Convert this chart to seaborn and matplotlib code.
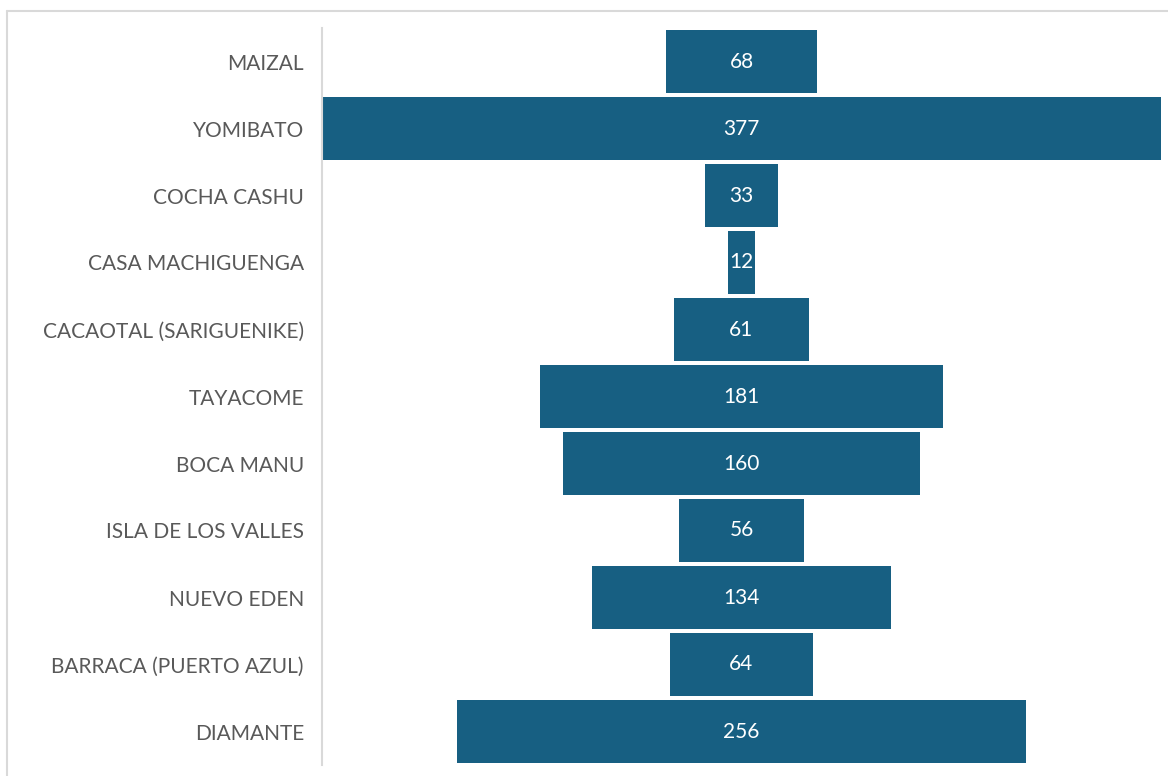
import numpy as np
import matplotlib.pyplot as plt
import seaborn as sns
import pandas as pd

# places, top to bottom
places = ["MAIZAL", "YOMIBATO", "COCHA CASHU", "CASA MACHIGUENGA",
          "CACAOTAL (SARIGUENIKE)", "TAYACOME", "BOCA MANU",
          "ISLA DE LOS VALLES", "NUEVO EDEN", "BARRACA (PUERTO AZUL)", "DIAMANTE"]
counts = [68, 377, 33, 12, 61, 181, 160, 56, 134, 64, 256]

bar_color = "#175F82"
text_gray = "#595959"

df = pd.DataFrame({"place": places, "count": counts})

sns.set_style("white")
plt.rcParams['font.family'] = ['Lato', 'DejaVu Sans']

fig = plt.figure(figsize=(11.68, 7.76), dpi=100)
ax = fig.add_axes([322 / 1168, 11 / 776, 839 / 1168, 737 / 776])

sns.barplot(data=df, x="count", y="place", orient="h", color=bar_color,
            width=0.94, saturation=1, linewidth=0, ax=ax)

# center each bar on zero (funnel style)
for p in ax.patches:
    w = p.get_width()
    p.set_x(-w / 2)
    ax.text(0, p.get_y() + p.get_height() / 2, f"{int(round(w))}",
            ha="center", va="center", color="white", fontsize=15)

half = max(counts) / 2
ax.set_xlim(-half, half)
ax.set_ylim(len(places) - 0.5, -0.5)
ax.set_xlabel("")
ax.set_ylabel("")
ax.set_xticks([])
ax.tick_params(axis="y", length=0, pad=13, labelsize=15, labelcolor=text_gray)

for s in ["top", "right", "bottom"]:
    ax.spines[s].set_visible(False)
ax.spines["left"].set_color("#D9D9D9")
ax.spines["left"].set_linewidth(1.5)

# outer chart frame (top and left edges visible in the crop)
fig.add_artist(plt.Line2D([6.5 / 1168, 1], [1 - 10.5 / 776, 1 - 10.5 / 776],
                          transform=fig.transFigure, color="#D9D9D9", lw=1.5))
fig.add_artist(plt.Line2D([6.5 / 1168, 6.5 / 1168], [0, 1 - 10.5 / 776],
                          transform=fig.transFigure, color="#D9D9D9", lw=1.5))

fig.savefig("out.png", dpi=100)
